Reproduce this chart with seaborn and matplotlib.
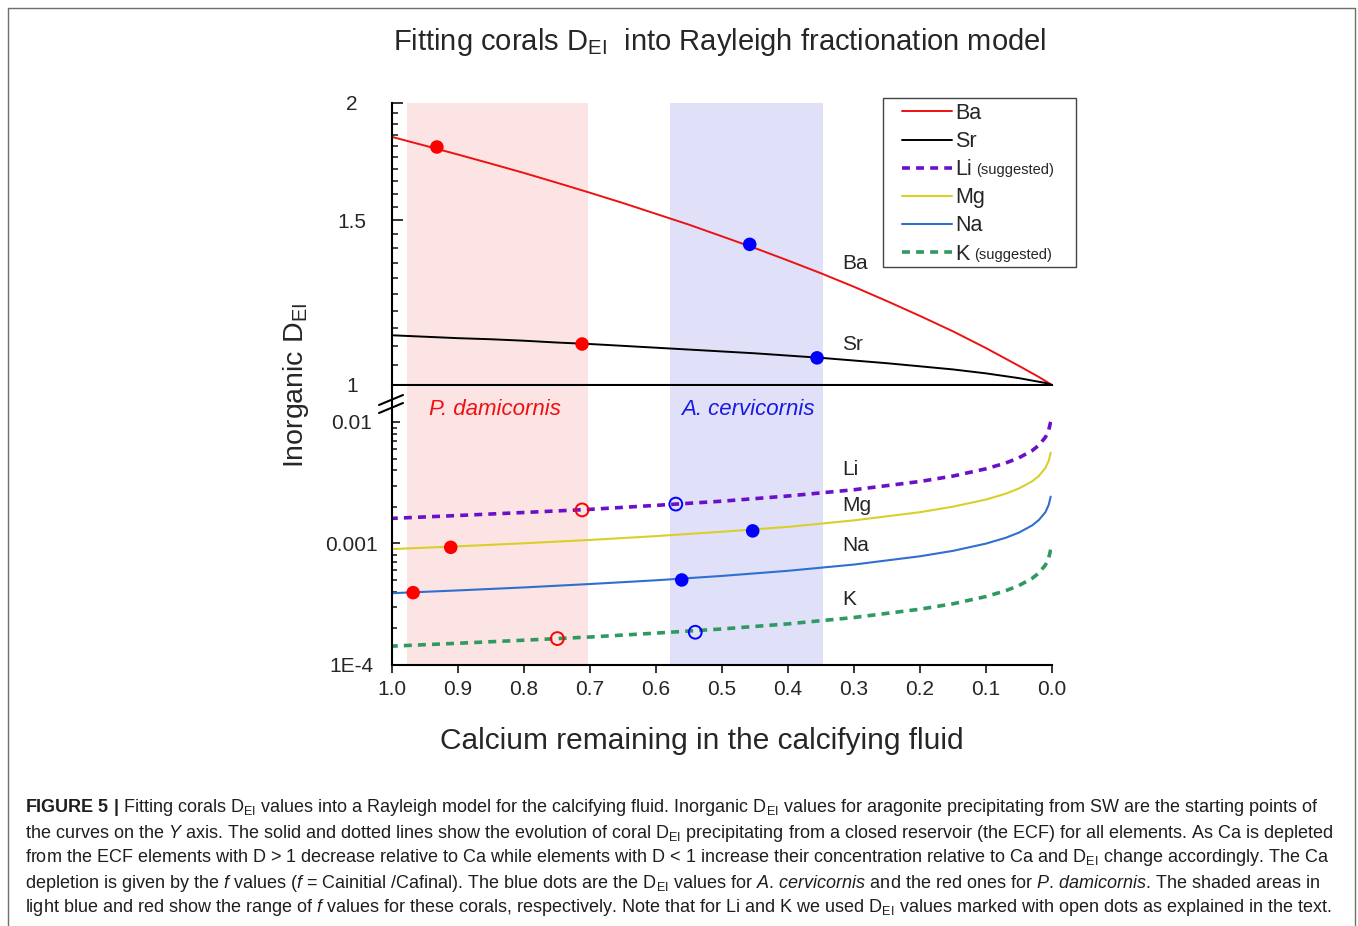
import numpy as np
import pandas as pd
import matplotlib
matplotlib.use("Agg")
import matplotlib.pyplot as plt
import seaborn as sns
from matplotlib.lines import Line2D
from matplotlib.patches import Rectangle
from matplotlib.ticker import FixedLocator, FixedFormatter, NullFormatter, LogLocator

# ---- data ----
# upper panel (D > 1), f = fraction of Ca remaining
f_up = [1.0, 0.95, 0.9, 0.85, 0.8, 0.75, 0.7, 0.65, 0.6, 0.55, 0.5, 0.45, 0.4, 0.35, 0.3,
        0.25, 0.2, 0.15, 0.1, 0.05, 0.02, 0.01, 0.0]
ba = [1.840, 1.801, 1.762, 1.723, 1.684, 1.644, 1.604, 1.564, 1.523, 1.483, 1.441, 1.400, 1.358, 1.316, 1.273,
      1.229, 1.185, 1.141, 1.095, 1.048, 1.020, 1.010, 1.0]
sr = [1.130, 1.126, 1.122, 1.119, 1.115, 1.110, 1.106, 1.101, 1.096, 1.091, 1.086, 1.081, 1.075, 1.069, 1.062,
      1.055, 1.047, 1.039, 1.029, 1.017, 1.008, 1.005, 1.0]

# lower panel (D < 1)
f_lo = [1.0, 0.9, 0.8, 0.7, 0.6, 0.5, 0.4, 0.3, 0.2, 0.15, 0.1, 0.07, 0.05, 0.03, 0.02, 0.01, 0.005, 0.002]
li = [0.00161, 0.00170, 0.00180, 0.00191, 0.00206, 0.00223, 0.00246, 0.00277, 0.00324, 0.00359,
      0.00412, 0.00460, 0.00508, 0.00582, 0.00643, 0.00749, 0.00857, 0.01003]
mg = [0.00090, 0.000948, 0.001004, 0.00107, 0.00115, 0.00125, 0.00137, 0.00155, 0.00181, 0.00201,
      0.00230, 0.00257, 0.00284, 0.00325, 0.00359, 0.00419, 0.00479, 0.00560]
na = [0.000390, 0.000411, 0.000435, 0.000464, 0.000498, 0.000541, 0.000596, 0.000671, 0.000785, 0.000870,
      0.000998, 0.001115, 0.00123, 0.00141, 0.00156, 0.00181, 0.00208, 0.00243]
k = [0.000143, 0.000151, 0.000160, 0.000170, 0.000183, 0.000198, 0.000218, 0.000246, 0.000288, 0.000319,
     0.000366, 0.000409, 0.000451, 0.000517, 0.000571, 0.000665, 0.000761, 0.000890]

# coral points (P. damicornis = red, A. cervicornis = blue)
red_up_f = [0.932, 0.712]
red_up_d = [1.795, 1.106]
blue_up_f = [0.458, 0.356]
blue_up_d = [1.413, 1.069]
red_lo_f = [0.911, 0.968]
red_lo_d = [0.00093, 0.000394]
blue_lo_f = [0.4535, 0.561]
blue_lo_d = [0.00127, 0.000501]
red_open_f = [0.712, 0.7495]
red_open_d = [0.00189, 0.000165]
blue_open_f = [0.570, 0.5405]
blue_open_d = [0.00211, 0.000186]

pdam_range = (0.977, 0.703)
acer_range = (0.579, 0.347)

x_ticks = [1.0, 0.9, 0.8, 0.7, 0.6, 0.5, 0.4, 0.3, 0.2, 0.1, 0.0]
names = ['Ba', 'Sr', 'Li', 'Mg', 'Na', 'K']

# ---- style ----
sns.set_style("ticks")
plt.rcParams['font.family'] = ['Liberation Sans', 'DejaVu Sans']
plt.rcParams['mathtext.fontset'] = 'custom'
plt.rcParams['mathtext.rm'] = 'Liberation Sans'
plt.rcParams['mathtext.it'] = 'Liberation Sans:italic'
plt.rcParams['mathtext.bf'] = 'Liberation Sans:bold'

c_ba, c_sr, c_li, c_mg, c_na, c_k = '#EE1111', 'black', '#6A10C8', '#D9CF2B', '#2F6FD0', '#2E9A60'
shade_red, shade_blue = '#FCE4E4', '#E0E0F8'
dash = (0, (2.2, 1.7))

W, H = 1358, 926
fig = plt.figure(figsize=(W / 100, H / 100), dpi=100)


def fx(px):
    return px / W


def fy(py):
    return 1 - py / H


ax_up = fig.add_axes([fx(392), fy(385), fx(1052) - fx(392), fy(103) - fy(385)])
ax_lo = fig.add_axes([fx(392), fy(665), fx(1052) - fx(392), fy(386) - fy(665)])

for ax in (ax_up, ax_lo):
    ax.axvspan(*pdam_range, color=shade_red, lw=0, zorder=0)
    ax.axvspan(*acer_range, color=shade_blue, lw=0, zorder=0)
    ax.set_xlim(1.0, 0.0)
    for s in ('top', 'right'):
        ax.spines[s].set_visible(False)
    for s in ('left', 'bottom'):
        ax.spines[s].set_linewidth(1.5)
        ax.spines[s].set_color('black')

# upper panel curves
up = pd.DataFrame({'f': f_up, 'Ba': ba, 'Sr': sr})
sns.lineplot(data=up, x='f', y='Ba', ax=ax_up, color=c_ba, lw=1.4, errorbar=None)
sns.lineplot(data=up, x='f', y='Sr', ax=ax_up, color=c_sr, lw=1.4, errorbar=None)
sns.scatterplot(x=red_up_f, y=red_up_d, ax=ax_up, color='#FF0000', s=95, edgecolor='none', zorder=5)
sns.scatterplot(x=blue_up_f, y=blue_up_d, ax=ax_up, color='#0000FF', s=95, edgecolor='none', zorder=5)

ax_up.set_yscale('log')
ax_up.set_ylim(1, 2)
ax_up.yaxis.set_major_locator(FixedLocator([1, 1.5, 2]))
ax_up.yaxis.set_major_formatter(FixedFormatter(['1', '1.5', '2']))
ax_up.yaxis.set_minor_locator(FixedLocator([v for v in np.arange(1.05, 1.99, 0.05) if abs(v - 1.5) > 0.01]))
ax_up.yaxis.set_minor_formatter(NullFormatter())
ax_up.tick_params(axis='y', which='major', direction='in', length=8, width=1.3, labelsize=15, pad=29)
ax_up.tick_params(axis='y', which='minor', direction='in', length=4, width=1.2)
ax_up.tick_params(axis='x', which='both', bottom=False, labelbottom=False)
ax_up.set_xlabel('')
ax_up.set_ylabel('')

# lower panel curves
lo = pd.DataFrame({'f': f_lo, 'Li': li, 'Mg': mg, 'Na': na, 'K': k})
sns.lineplot(data=lo, x='f', y='Li', ax=ax_lo, color=c_li, lw=2.6, linestyle=dash, errorbar=None)
sns.lineplot(data=lo, x='f', y='Mg', ax=ax_lo, color=c_mg, lw=1.5, errorbar=None)
sns.lineplot(data=lo, x='f', y='Na', ax=ax_lo, color=c_na, lw=1.5, errorbar=None)
sns.lineplot(data=lo, x='f', y='K', ax=ax_lo, color=c_k, lw=2.6, linestyle=dash, errorbar=None)
sns.scatterplot(x=red_lo_f, y=red_lo_d, ax=ax_lo, color='#FF0000', s=95, edgecolor='none', zorder=5)
sns.scatterplot(x=blue_lo_f, y=blue_lo_d, ax=ax_lo, color='#0000FF', s=95, edgecolor='none', zorder=5)
sns.scatterplot(x=red_open_f, y=red_open_d, ax=ax_lo, s=85, facecolor='none', edgecolor='#FF0000',
                linewidth=1.4, zorder=5)
sns.scatterplot(x=blue_open_f, y=blue_open_d, ax=ax_lo, s=85, facecolor='none', edgecolor='#0000FF',
                linewidth=1.4, zorder=5)

ax_lo.set_yscale('log')
ax_lo.set_ylim(1e-4, 10 ** (-4 + (665 - 386) / 121.5))
ax_lo.yaxis.set_major_locator(FixedLocator([1e-4, 1e-3, 1e-2]))
ax_lo.yaxis.set_major_formatter(FixedFormatter(['1E-4', '0.001', '0.01']))
ax_lo.yaxis.set_minor_locator(LogLocator(base=10, subs=np.arange(2, 10)))
ax_lo.yaxis.set_minor_formatter(NullFormatter())
ax_lo.tick_params(axis='y', which='major', direction='in', length=6, width=1.3, labelsize=15, pad=29)
ax_lo.tick_params(axis='y', which='minor', direction='in', length=3.5, width=1.2)
ax_lo.set_xticks(x_ticks)
ax_lo.set_xticklabels([f'{v:.1f}' for v in x_ticks])
ax_lo.tick_params(axis='x', which='major', direction='out', length=6, width=1.3, labelsize=15, pad=5)
ax_lo.set_xlabel('')
ax_lo.set_ylabel('')

for ax in (ax_up, ax_lo):
    for lab in ax.get_yticklabels():
        lab.set_horizontalalignment('center')

# curve labels
ax_up.text(0.318, 1.348, 'Ba', fontsize=15, va='center', ha='left')
ax_up.text(0.318, 1.106, 'Sr', fontsize=15, va='center', ha='left')
ax_lo.text(0.318, 0.0041, 'Li', fontsize=15, va='center', ha='left')
ax_lo.text(0.318, 0.00207, 'Mg', fontsize=15, va='center', ha='left')
ax_lo.text(0.318, 0.00097, 'Na', fontsize=15, va='center', ha='left')
ax_lo.text(0.318, 0.000343, 'K', fontsize=15, va='center', ha='left')
ax_lo.text(0.844, 0.01256, 'P. damicornis', fontsize=16, style='italic', color='#EE1111', ha='center', va='center')
ax_lo.text(0.4606, 0.01256, 'A. cervicornis', fontsize=16, style='italic', color='#1A1AE0', ha='center', va='center')

# axis break marks
for y0 in (405, 413):
    fig.add_artist(Line2D([fx(379), fx(403)], [fy(y0), fy(y0 - 10)], color='black', lw=1.5))

# legend (frame drawn separately so the small "(suggested)" fits inside)
handles = [
    Line2D([], [], color=c_ba, lw=1.4),
    Line2D([], [], color=c_sr, lw=1.4),
    Line2D([], [], color=c_li, lw=2.6, linestyle=dash),
    Line2D([], [], color=c_mg, lw=1.5),
    Line2D([], [], color=c_na, lw=1.5),
    Line2D([], [], color=c_k, lw=2.6, linestyle=dash),
]
leg = fig.legend(handles, names, loc='upper left', bbox_to_anchor=(fx(902), fy(103)),
                 fontsize=15.5, frameon=False, handlelength=2.3, handletextpad=0.18,
                 labelspacing=0.33, borderpad=0, borderaxespad=0)
fig.add_artist(Rectangle((fx(883), fy(267)), fx(1076) - fx(883), fy(98) - fy(267),
                         transform=fig.transFigure, fill=False, edgecolor='#444444', lw=1.0))

# titles and axis labels
fig.text(fx(720), fy(42), r'Fitting corals D$_\mathrm{EI}$  into Rayleigh fractionation model',
         fontsize=21, ha='center', va='center')
fig.text(fx(296), fy(385), r'Inorganic D$_\mathrm{EI}$', fontsize=20.5, rotation=90, ha='center', va='center')
fig.text(fx(702), fy(741), 'Calcium remaining in the calcifying fluid', fontsize=21.5, ha='center', va='center')

# caption
caption = [
    r'$\mathbf{FIGURE\ 5\ |}$ Fitting corals D$_\mathrm{EI}$ values into a Rayleigh model for the calcifying fluid. '
    r'Inorganic D$_\mathrm{EI}$ values for aragonite precipitating from SW are the starting points of',
    r'the curves on the $\mathit{Y}$ axis. The solid and dotted lines show the evolution of coral D$_\mathrm{EI}$ '
    r'precipitating from a closed reservoir (the ECF) for all elements. As Ca is depleted',
    r'from the ECF elements with D > 1 decrease relative to Ca while elements with D < 1 increase their '
    r'concentration relative to Ca and D$_\mathrm{EI}$ change accordingly. The Ca',
    r'depletion is given by the $\mathit{f}$ values ($\mathit{f}$ = Cainitial /Cafinal). The blue dots are the '
    r'D$_\mathrm{EI}$ values for $\mathit{A.\,cervicornis}$ and the red ones for '
    r'$\mathit{P.\,damicornis}$. The shaded areas in',
    r'light blue and red show the range of $\mathit{f}$ values for these corals, respectively. Note that for Li '
    r'and K we used D$_\mathrm{EI}$ values marked with open dots as explained in the text.',
]
for i, line in enumerate(caption):
    fig.text(fx(25), fy(808 + 25 * i), line, fontsize=13, ha='left', va='center', color='#1E1E1E')

# frame around the whole figure
border = '#6E6E6E'
fig.add_artist(Line2D([fx(8), fx(8)], [0, fy(8)], color=border, lw=1))
fig.add_artist(Line2D([fx(8), fx(1355)], [fy(8), fy(8)], color=border, lw=1))
fig.add_artist(Line2D([fx(1355), fx(1355)], [0, fy(8)], color=border, lw=1))

# small "(suggested)" after Li and K in the legend
fig.canvas.draw()
renderer = fig.canvas.get_renderer()
inv = fig.transFigure.inverted()
for t in leg.get_texts():
    if t.get_text() in ('Li', 'K'):
        bb = t.get_window_extent(renderer)
        x0, y0 = inv.transform((bb.x1 + 4, bb.y0 + 3))
        fig.text(x0, y0, '(suggested)', fontsize=10.5, ha='left', va='bottom')

fig.savefig('out.png', dpi=100)
